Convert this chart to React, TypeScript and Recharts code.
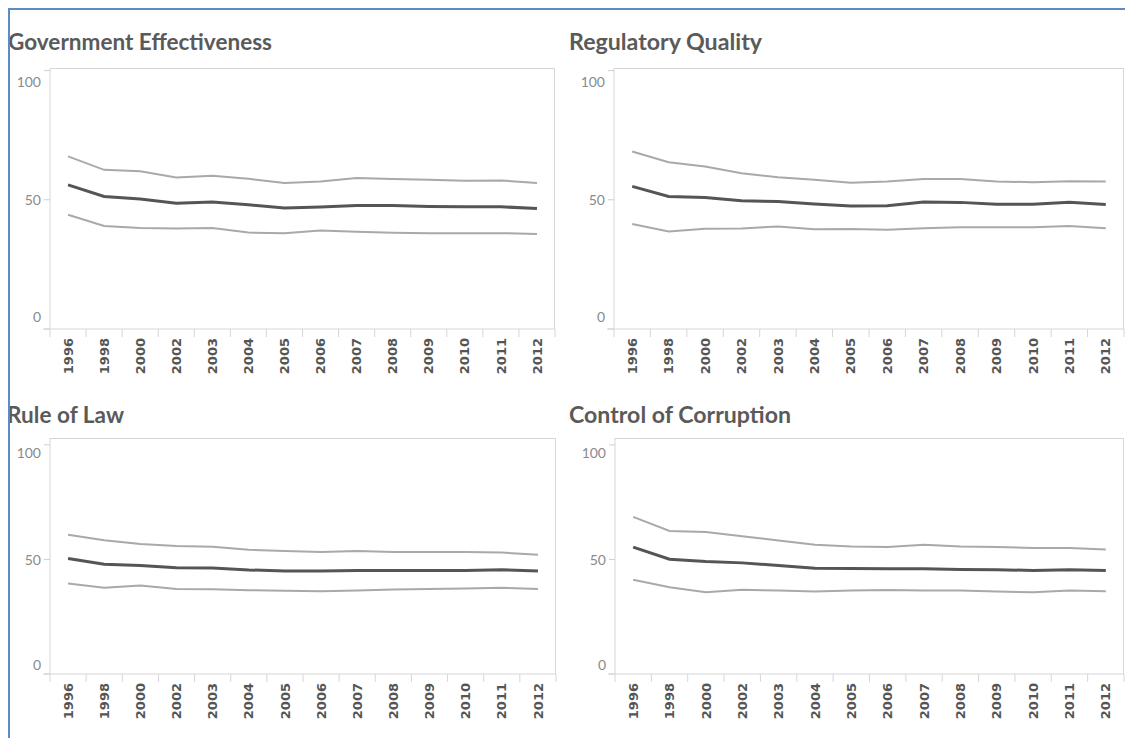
import React from 'react';
import { LineChart, Line, XAxis, YAxis, CartesianGrid } from 'recharts';

const years = ['1996', '1998', '2000', '2002', '2003', '2004', '2005', '2006', '2007', '2008', '2009', '2010', '2011', '2012'];
const yTicks = [0, 50, 100];

const geUpper = [66.8, 61.6, 61.0, 58.6, 59.3, 58.1, 56.5, 57.1, 58.4, 58.0, 57.8, 57.4, 57.5, 56.5];
const geMid = [55.8, 51.3, 50.3, 48.7, 49.1, 48.1, 46.8, 47.2, 47.8, 47.8, 47.4, 47.3, 47.3, 46.6];
const geLower = [44.2, 39.9, 39.1, 38.9, 39.1, 37.3, 37.1, 38.1, 37.6, 37.2, 37.1, 37.1, 37.1, 36.8];

const rqUpper = [68.7, 64.5, 62.9, 60.3, 58.7, 57.8, 56.6, 57.1, 58.0, 58.0, 57.1, 56.8, 57.2, 57.1];
const rqMid = [55.2, 51.3, 50.9, 49.6, 49.3, 48.4, 47.6, 47.7, 49.1, 49.0, 48.3, 48.3, 49.0, 48.2];
const rqLower = [40.6, 37.7, 38.8, 38.9, 39.7, 38.6, 38.7, 38.4, 39.0, 39.4, 39.4, 39.4, 39.9, 39.0];

const rlUpper = [60.8, 58.4, 56.7, 55.9, 55.5, 54.2, 53.7, 53.3, 53.7, 53.3, 53.2, 53.2, 53.0, 52.0];
const rlMid = [50.4, 47.9, 47.4, 46.4, 46.3, 45.4, 45.0, 44.9, 45.2, 45.2, 45.2, 45.2, 45.5, 44.9];
const rlLower = [39.5, 37.6, 38.6, 37.1, 37.0, 36.6, 36.3, 36.1, 36.4, 36.9, 37.1, 37.3, 37.6, 37.1];

const ccUpper = [68.6, 62.4, 62.0, 60.1, 58.3, 56.4, 55.7, 55.4, 56.4, 55.7, 55.4, 55.0, 55.0, 54.3];
const ccMid = [55.4, 50.1, 49.1, 48.5, 47.4, 46.2, 46.0, 45.9, 45.9, 45.6, 45.5, 45.2, 45.5, 45.2];
const ccLower = [41.1, 37.9, 35.7, 36.8, 36.4, 36.0, 36.4, 36.7, 36.4, 36.4, 36.0, 35.7, 36.4, 36.1];

const titles = ['Government Effectiveness', 'Regulatory Quality', 'Rule of Law', 'Control of Corruption'];

function build(upper: number[], mid: number[], lower: number[]) {
  return years.map((y, i) => ({ year: y, upper: upper[i], mid: mid[i], lower: lower[i] }));
}

const YW = 40;
const ML = 4;
const MT = 10;
const MR = 6;
const XH = 50;
const AXIS = '#d6d6d6';

const renderXTick = (p: any, bw: number, n: number) => {
  const { x, y, payload, index } = p;
  const left = x - bw / 2;
  const right = x + bw / 2;
  const ty = y + 9;
  return (
    <g>
      <line x1={left} x2={left} y1={y} y2={y + 8} stroke={AXIS} strokeWidth={1} />
      {index === n - 1 ? <line x1={right} x2={right} y1={y} y2={y + 8} stroke={AXIS} strokeWidth={1} /> : null}
      {index === 0 ? <line x1={left - 7} x2={left} y1={y} y2={y} stroke={AXIS} strokeWidth={1} /> : null}
      <text
        x={x}
        y={ty}
        transform={`rotate(-90 ${x} ${ty})`}
        textAnchor="end"
        dy="0.36em"
        fontFamily="DejaVu Sans"
        fontWeight="bold"
        fontSize={13}
        fill="#555"
      >
        {payload.value}
      </text>
    </g>
  );
};

const renderYTick = (p: any, sTop: number, sBot: number) => {
  const { x, y, payload } = p;
  const v = payload.value;
  const dy = v === 100 ? sTop : v === 0 ? -sBot : 0;
  return (
    <text x={x} y={y + dy} textAnchor="end" dominantBaseline="central" fontFamily="Lato" fontSize={14} fill="#8a8a8a">
      {v}
    </text>
  );
};

type PanelProps = {
  data: any[];
  pl: number;
  pt: number;
  pr: number;
  pb: number;
  yMax: number;
  sTop: number;
  sBot: number;
};

function Panel({ data, pl, pt, pr, pb, yMax, sTop, sBot }: PanelProps) {
  const pw = pr - pl;
  const ph = pb - pt;
  const bw = pw / years.length;
  const width = pw + YW + ML + MR;
  const height = ph + MT + XH;
  const plotLeft = YW + ML;
  const plotTop = MT;
  return (
    <div style={{ position: 'absolute', left: pl - 8 - YW - ML, top: pt - 8 - MT }}>
      <LineChart width={width} height={height} data={data} margin={{ top: MT, right: MR, bottom: 0, left: ML }}>
        <CartesianGrid
          stroke={AXIS}
          fill="none"
          horizontalCoordinatesGenerator={() => [plotTop + 0.5]}
          verticalCoordinatesGenerator={() => [plotLeft + pw - 0.5]}
        />
        <XAxis
          dataKey="year"
          scale="band"
          interval={0}
          tickLine={false}
          tickSize={0}
          tickMargin={0}
          height={XH}
          axisLine={{ stroke: AXIS }}
          tick={(p: any) => renderXTick(p, bw, years.length)}
        />
        <YAxis
          domain={[0, yMax]}
          ticks={yTicks}
          width={YW}
          tickSize={6}
          tickMargin={3}
          tickLine={{ stroke: '#cfcfcf' }}
          axisLine={{ stroke: AXIS }}
          tick={(p: any) => renderYTick(p, sTop, sBot)}
        />
        <Line type="linear" dataKey="upper" stroke="#a9a9a9" strokeWidth={2} dot={false} isAnimationActive={false} />
        <Line type="linear" dataKey="lower" stroke="#a9a9a9" strokeWidth={2} dot={false} isAnimationActive={false} />
        <Line type="linear" dataKey="mid" stroke="#555555" strokeWidth={3} dot={false} isAnimationActive={false} />
      </LineChart>
    </div>
  );
}

function Title({ text, x, baseline, w }: { text: string; x: number; baseline: number; w: number }) {
  return (
    <svg style={{ position: 'absolute', left: x - 8, top: baseline - 8 - 26 }} width={w + 6} height={34}>
      <text
        x={0}
        y={26}
        textLength={w}
        lengthAdjust="spacingAndGlyphs"
        fontFamily="Lato"
        fontWeight="bold"
        fontSize={23}
        fill="#5a5a5a"
      >
        {text}
      </text>
    </svg>
  );
}

export default function App() {
  return (
    <div style={{ position: 'relative', width: 1125, height: 730, overflow: 'hidden', background: '#fff' }}>
      <Title text={titles[0]} x={8} baseline={50} w={264} />
      <Title text={titles[1]} x={569} baseline={50} w={193} />
      <Title text={titles[2]} x={7} baseline={423} w={117} />
      <Title text={titles[3]} x={569} baseline={423} w={222} />
      <Panel data={build(geUpper, geMid, geLower)} pl={50} pt={68} pr={555} pb={329} yMax={101} sTop={11} sBot={13} />
      <Panel data={build(rqUpper, rqMid, rqLower)} pl={614} pt={68} pr={1124} pb={329} yMax={101} sTop={11} sBot={13} />
      <Panel data={build(rlUpper, rlMid, rlLower)} pl={50} pt={438} pr={556} pb={674} yMax={103} sTop={8} sBot={10} />
      <Panel data={build(ccUpper, ccMid, ccLower)} pl={615} pt={438} pr={1124} pb={674} yMax={103} sTop={8} sBot={10} />
      <div style={{ position: 'absolute', left: 0, top: 0, width: 2, height: 730, background: '#5b8bc9' }} />
      <div style={{ position: 'absolute', left: 0, top: 0, width: 1125, height: 2, background: '#5b8bc9' }} />
    </div>
  );
}
